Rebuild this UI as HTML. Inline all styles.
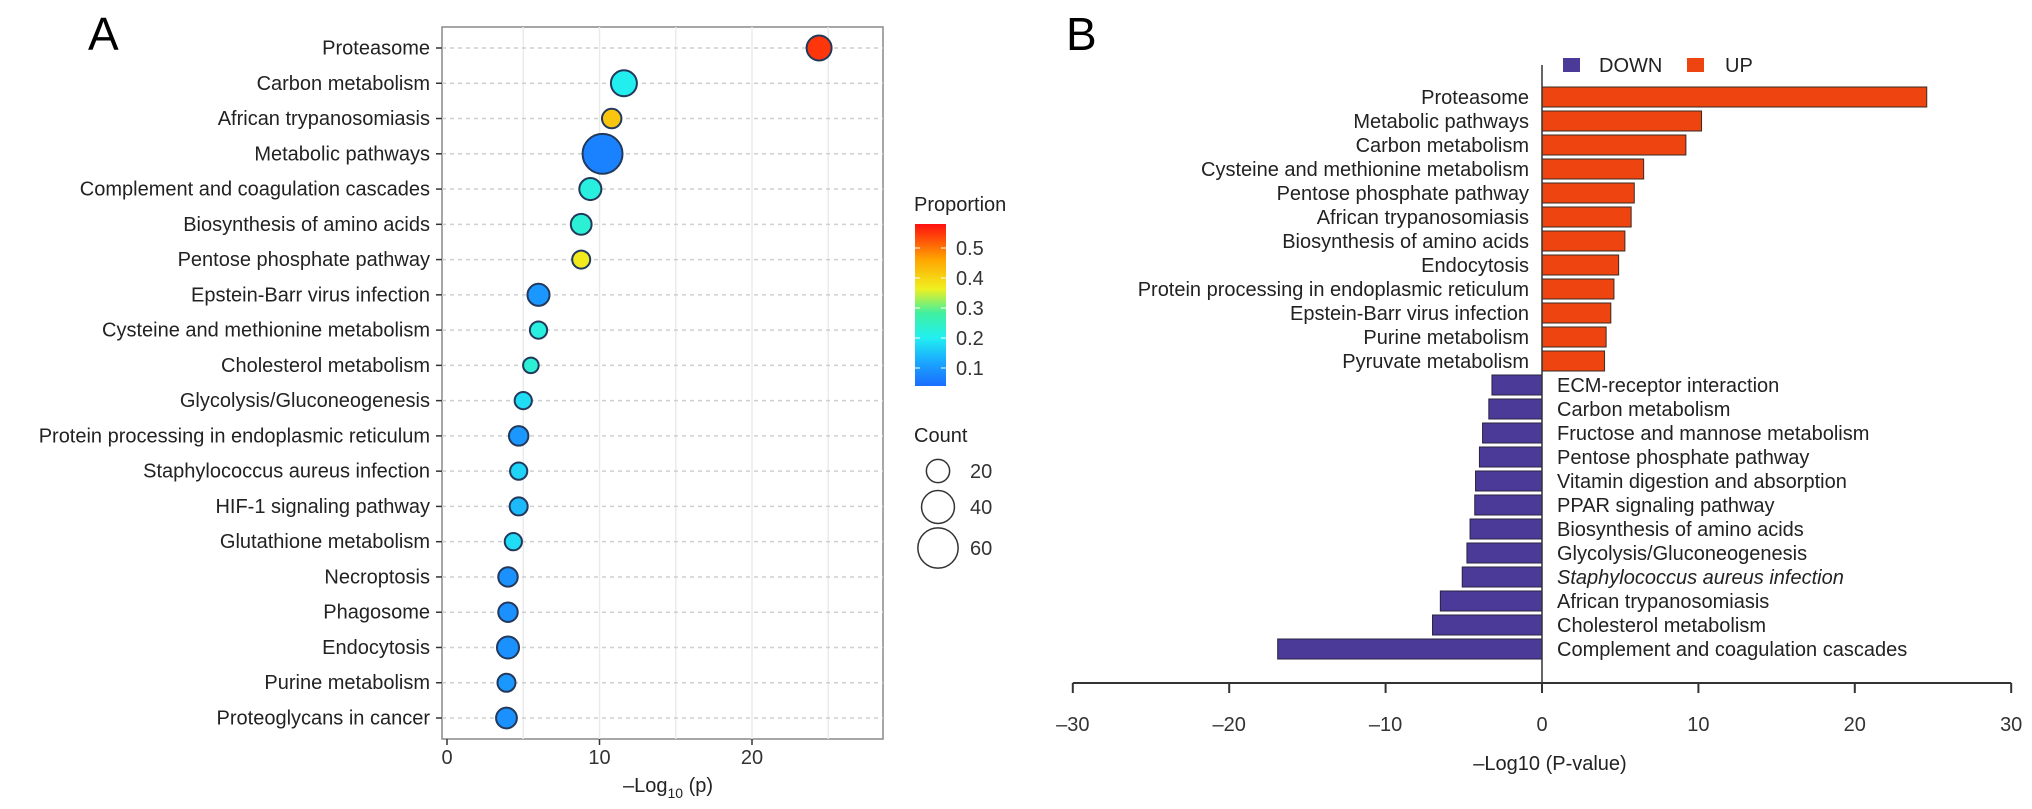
<!DOCTYPE html>
<html><head><meta charset="utf-8">
<style>
html,body{margin:0;padding:0;background:#fff;}
svg{display:block;font-family:"Liberation Sans",Arial,sans-serif;}
</style></head>
<body>
<svg id="fig" width="2032" height="809" viewBox="0 0 2032 809" xmlns="http://www.w3.org/2000/svg">
  <text x="88" y="50" font-size="46" fill="#000">A</text>
  <text x="1066" y="50" font-size="46" fill="#000">B</text>
  <defs>
    <linearGradient id="jet" x1="0" y1="1" x2="0" y2="0">
      <stop offset="0" stop-color="#1a6cff"/>
      <stop offset="0.15" stop-color="#1aa8ff"/>
      <stop offset="0.3" stop-color="#22f0f0"/>
      <stop offset="0.45" stop-color="#40f0a0"/>
      <stop offset="0.6" stop-color="#f0f020"/>
      <stop offset="0.78" stop-color="#ffa500"/>
      <stop offset="1" stop-color="#ff1010"/>
    </linearGradient>
  </defs>
  <g id="pa"></g>
  <g id="pb"></g>
</svg>
<script>
// ---- Panel A data ----
const aCategories = ["Proteasome","Carbon metabolism","African trypanosomiasis","Metabolic pathways","Complement and coagulation cascades","Biosynthesis of amino acids","Pentose phosphate pathway","Epstein-Barr virus infection","Cysteine and methionine metabolism","Cholesterol metabolism","Glycolysis/Gluconeogenesis","Protein processing in endoplasmic reticulum","Staphylococcus aureus infection","HIF-1 signaling pathway","Glutathione metabolism","Necroptosis","Phagosome","Endocytosis","Purine metabolism","Proteoglycans in cancer"];
const aValues = [24.4,11.6,10.8,10.2,9.4,8.8,8.8,6.0,6.0,5.5,5.0,4.7,4.7,4.7,4.35,4.0,4.0,4.0,3.9,3.9];
const aProportion = [0.55,0.2,0.42,0.07,0.22,0.23,0.37,0.1,0.22,0.23,0.18,0.1,0.17,0.14,0.18,0.09,0.09,0.09,0.1,0.09];
const aCount = [23,25,14,59,18,16,12,18,11,9,11,14,11,12,11,14,14,18,12,16];
const aXTicks = [0,10,20];
const propTicks = [0.1,0.2,0.3,0.4,0.5];
const countLegend = [20,40,60];

// ---- Panel B data ----
const upCategories = ["Proteasome","Metabolic pathways","Carbon metabolism","Cysteine and methionine metabolism","Pentose phosphate pathway","African trypanosomiasis","Biosynthesis of amino acids","Endocytosis","Protein processing in endoplasmic reticulum","Epstein-Barr virus infection","Purine metabolism","Pyruvate metabolism"];
const upValues = [24.6,10.2,9.2,6.5,5.9,5.7,5.3,4.9,4.6,4.4,4.1,4.0];
const downCategories = ["ECM-receptor interaction","Carbon metabolism","Fructose and mannose metabolism","Pentose phosphate pathway","Vitamin digestion and absorption","PPAR signaling pathway","Biosynthesis of amino acids","Glycolysis/Gluconeogenesis","Staphylococcus aureus infection","African trypanosomiasis","Cholesterol metabolism","Complement and coagulation cascades"];
const downValues = [-3.2,-3.4,-3.8,-4.0,-4.25,-4.3,-4.6,-4.8,-5.1,-6.5,-7.0,-16.9];
const bXTicks = [-30,-20,-10,0,10,20,30];

const NS="http://www.w3.org/2000/svg";
function mk(parent,tag,attrs,text){const e=document.createElementNS(NS,tag);for(const k in attrs)e.setAttribute(k,attrs[k]);if(text!==undefined)e.textContent=text;parent.appendChild(e);return e;}

// ---- Panel A ----
const pa=document.getElementById('pa');
const ax0=447, axK=15.25, boxL=442, boxR=883, boxT=27, boxB=739;
const ay0=48, ayStep=(718-48)/19;
const xA=v=>ax0+v*axK, yA=i=>ay0+i*ayStep;
const rA=c=>2.6*Math.sqrt(c);
function jet(p){
  const t=Math.max(0,Math.min(1,(p-0.04)/(0.58-0.04)));
  const stops=[[0,[26,108,255]],[0.15,[26,168,255]],[0.3,[34,240,240]],[0.45,[64,240,160]],[0.6,[240,240,32]],[0.78,[255,165,0]],[1,[255,16,16]]];
  for(let i=1;i<stops.length;i++){if(t<=stops[i][0]){const a=stops[i-1],b=stops[i];const f=(t-a[0])/(b[0]-a[0]);const c=a[1].map((v,j)=>Math.round(v+(b[1][j]-v)*f));return `rgb(${c})`;}}
  return 'rgb(255,16,16)';
}
let r=mk(pa,'rect',{x:boxL,y:boxT,width:boxR-boxL,height:boxB-boxT,fill:'#fff',stroke:'#888','stroke-width':1.5});


[5,10,15,20,25].forEach(v=>{const l=mk(pa,'line',{x1:xA(v),x2:xA(v),y1:boxT,y2:boxB,stroke:'#ebebeb','stroke-width':1.5});

});
aCategories.forEach((c,i)=>{
  const y=yA(i);
  const g=mk(pa,'line',{x1:boxL,x2:boxR,y1:y,y2:y,stroke:'#cfcfcf','stroke-width':1.5,'stroke-dasharray':'4,4'});
  
  
  mk(pa,'line',{x1:436,x2:442,y1:y,y2:y,stroke:'#333','stroke-width':1.5});
  const t=mk(pa,'text',{x:430,y:y+6.5,'text-anchor':'end','font-size':20,fill:'#222'},c);
  
  
});
aCategories.forEach((c,i)=>{
  const cc=mk(pa,'circle',{cx:xA(aValues[i]),cy:yA(i),r:rA(aCount[i]),fill:jet(aProportion[i]),stroke:'#23395b','stroke-width':2});
  
  
});
aXTicks.forEach(v=>{
  mk(pa,'line',{x1:xA(v),x2:xA(v),y1:boxB,y2:boxB+6,stroke:'#333','stroke-width':1.5});
  const t=mk(pa,'text',{x:xA(v),y:764,'text-anchor':'middle','font-size':20,fill:'#333'},v);
  
  
});
let xt=mk(pa,'text',{x:668,y:792,'text-anchor':'middle','font-size':20,fill:'#222'});


xt.innerHTML='–Log<tspan font-size="14" dy="6">10</tspan><tspan dy="-6"> (p)</tspan>';
// colorbar
let pt=mk(pa,'text',{x:914,y:211,'font-size':20,fill:'#222'},'Proportion');


let cb=mk(pa,'rect',{x:915,y:224,width:31,height:162,fill:'url(#jet)'});


const yCb=p=>386-(p-0.04)/(0.58-0.04)*162;
propTicks.forEach(p=>{
  mk(pa,'line',{x1:915,x2:920,y1:yCb(p),y2:yCb(p),stroke:'#fff','stroke-width':1});
  mk(pa,'line',{x1:941,x2:946,y1:yCb(p),y2:yCb(p),stroke:'#fff','stroke-width':1});
  const t=mk(pa,'text',{x:956,y:yCb(p)+7,'font-size':20,fill:'#333'},p.toFixed(1));
  
  
});
let ct=mk(pa,'text',{x:914,y:442,'font-size':20,fill:'#222'},'Count');


const legY=[471,507,548];
countLegend.forEach((c,i)=>{
  const lc=mk(pa,'circle',{cx:938,cy:legY[i],r:rA(c),fill:'none',stroke:'#333','stroke-width':1.5});
  
  
  const t=mk(pa,'text',{x:970,y:legY[i]+7,'font-size':20,fill:'#333'},c);
  
  
});

// ---- Panel B ----
const pb=document.getElementById('pb');
const bx0=1542, bK=15.64, by0=97, byStep=(649-97)/23, barH=20;
const xB=v=>bx0+v*bK, yB=i=>by0+i*byStep;
upCategories.forEach((c,i)=>{
  const y=yB(i);
  const b=mk(pb,'rect',{x:xB(0),y:y-barH/2,width:xB(upValues[i])-xB(0),height:barH,fill:'#ee4410',stroke:'#3a2a20','stroke-width':1});
  
  
  const t=mk(pb,'text',{x:1529,y:y+7,'text-anchor':'end','font-size':20,fill:'#222'},c);
  
  
});
downCategories.forEach((c,j)=>{
  const i=j+upCategories.length, y=yB(i);
  const b=mk(pb,'rect',{x:xB(downValues[j]),y:y-barH/2,width:xB(0)-xB(downValues[j]),height:barH,fill:'#4b3a98',stroke:'#2a2240','stroke-width':1});
  
  
  const attrs={x:1557,y:y+7,'font-size':20,fill:'#222'};
  if(c.indexOf('Staphylococcus')===0) attrs['font-style']='italic';
  const t=mk(pb,'text',attrs,c);
  
  
});
let zl=mk(pb,'line',{x1:bx0,x2:bx0,y1:65,y2:683,stroke:'#333','stroke-width':1.5});


let xa=mk(pb,'line',{x1:xB(-30),x2:xB(30),y1:683,y2:683,stroke:'#333','stroke-width':2});


bXTicks.forEach(v=>{
  mk(pb,'line',{x1:xB(v),x2:xB(v),y1:683,y2:693,stroke:'#333','stroke-width':2});
  const t=mk(pb,'text',{x:xB(v),y:731,'text-anchor':'middle','font-size':20,fill:'#333'},v<0?'–'+(-v):v);
  
  
});
let bt=mk(pb,'text',{x:1550,y:770,'text-anchor':'middle','font-size':20,fill:'#222'},'–Log10 (P-value)');


let l1=mk(pb,'rect',{x:1563,y:58,width:17,height:14,fill:'#4b3a98'});


let l1t=mk(pb,'text',{x:1599,y:72,'font-size':20,fill:'#222'},'DOWN');


let l2=mk(pb,'rect',{x:1687,y:58,width:17,height:14,fill:'#ee4410'});


let l2t=mk(pb,'text',{x:1725,y:72,'font-size':20,fill:'#222'},'UP');


</script>
</body></html>
